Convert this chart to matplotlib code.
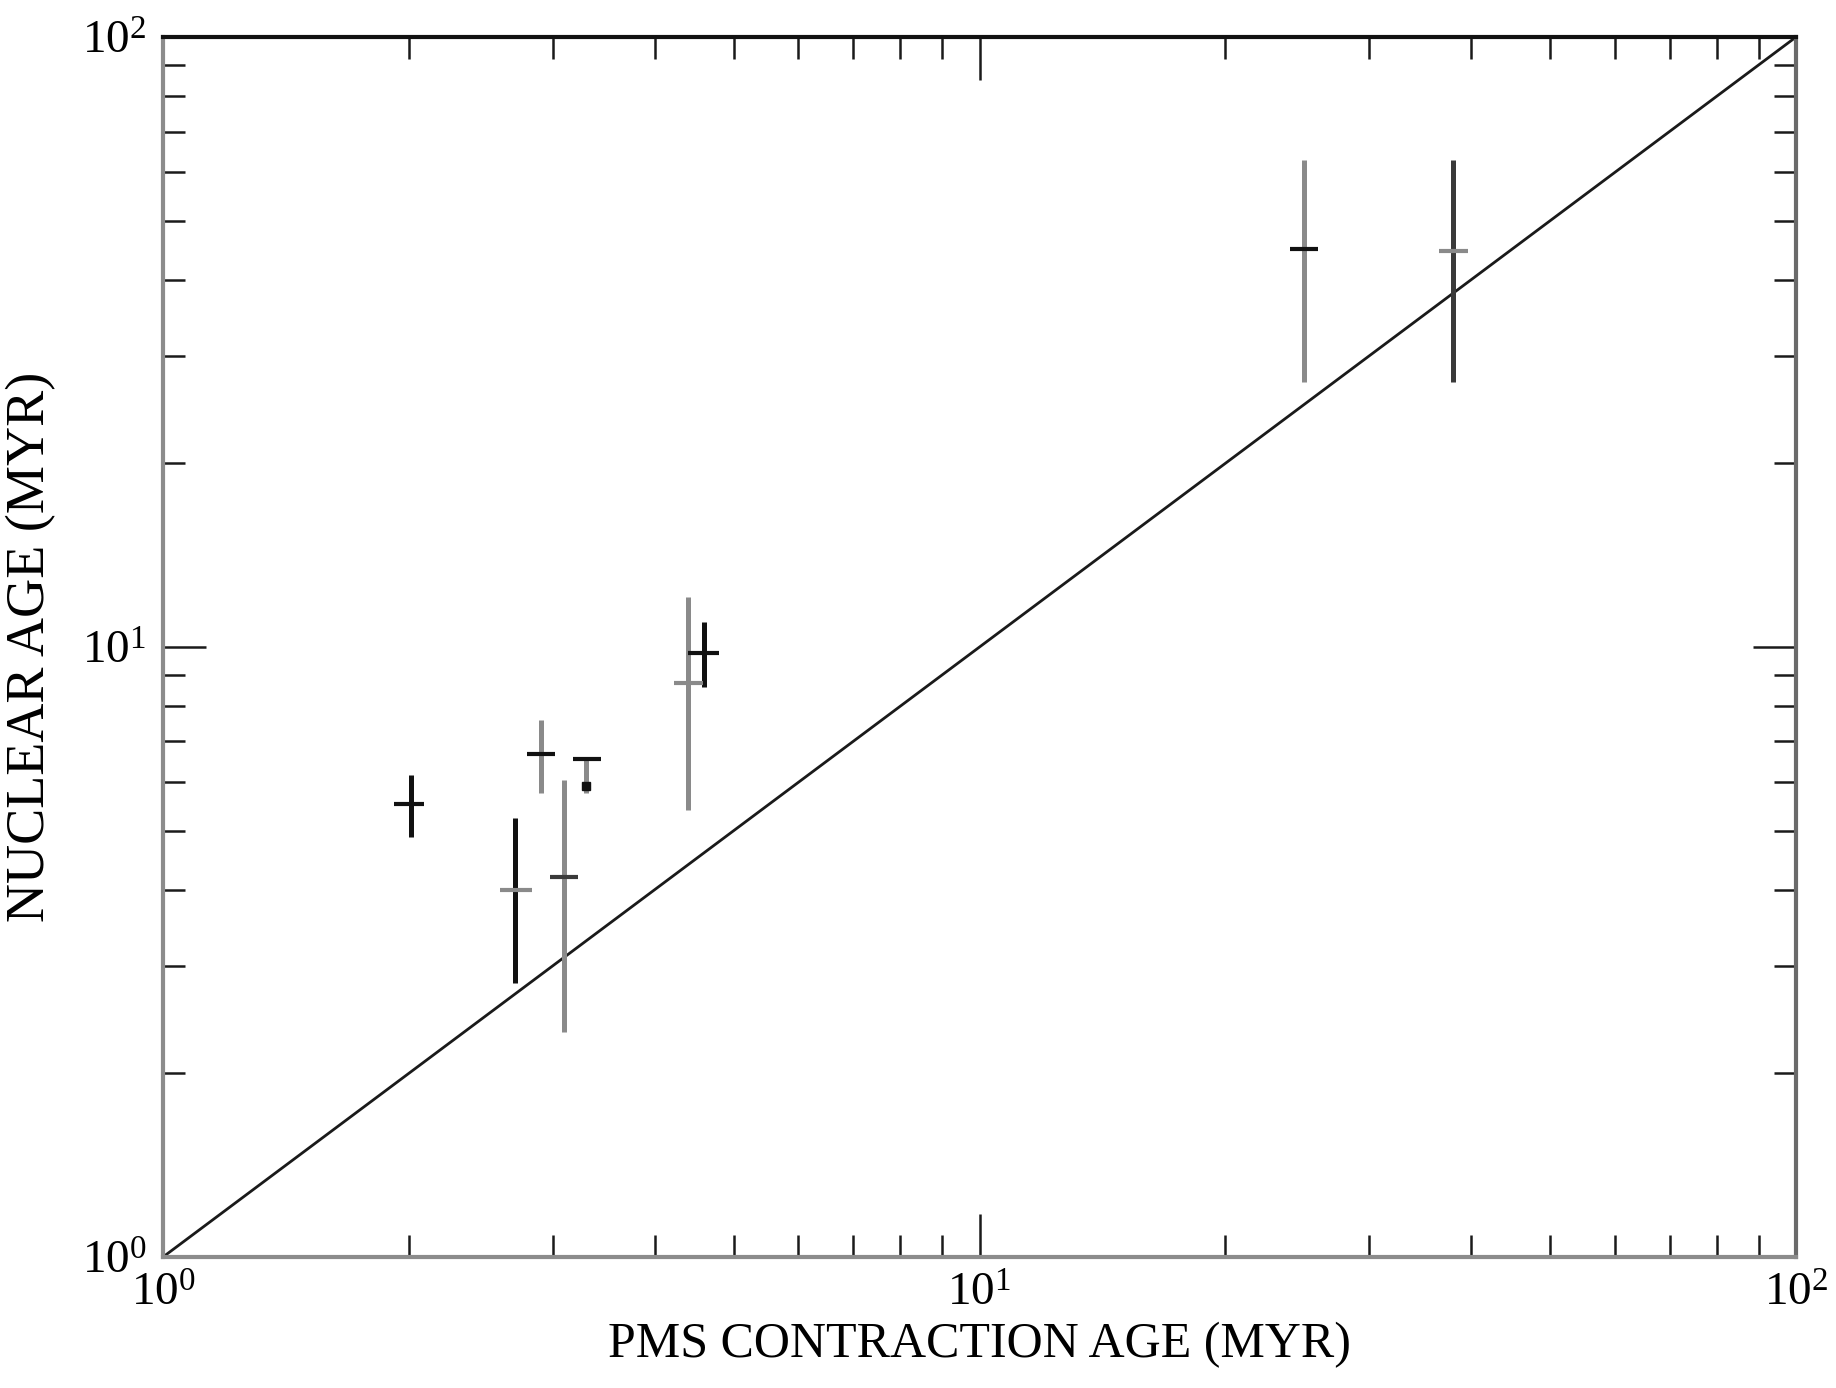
import matplotlib
matplotlib.use("Agg")
import matplotlib.pyplot as plt
from matplotlib.ticker import LogLocator, NullFormatter

# ---------------------------
# Data
# ---------------------------
pms_age = [2.01, 2.70, 2.90, 3.10, 3.30, 4.40, 4.60, 25.0, 38.0]
nuc_age = [5.53, 4.00, 6.68, 4.19, 6.55, 8.72, 9.77, 45.0, 44.6]
nuc_lo = [4.88, 2.81, 5.77, 2.34, 5.77, 5.41, 8.59, 27.2, 27.2]
nuc_hi = [6.17, 5.25, 7.59, 6.05, 6.55, 12.1, 11.0, 62.9, 62.9]
pms_lo = [1.92, 2.59, 2.79, 2.98, 3.18, 4.23, 4.40, 24.0, 36.5]
pms_hi = [2.09, 2.83, 3.02, 3.22, 3.44, 4.59, 4.79, 26.0, 39.7]

# shade of the vertical / horizontal bar of each point
vert_col = ["k", "k", "g", "g", "g", "g", "k", "g", "d"]
horz_col = ["k", "g", "k", "d", "k", "g", "k", "k", "g"]

# extra dot below the T-shaped point
dot_x = [3.30]
dot_y = [5.92]

one_to_one = [1, 100]

shades = {"k": "#111111", "g": "#8a8a8a", "d": "#3a3a3a"}

plt.rcParams["font.family"] = ["Liberation Serif", "DejaVu Serif"]
plt.rcParams["mathtext.fontset"] = "custom"
plt.rcParams["mathtext.rm"] = "Liberation Serif"

fig = plt.figure(figsize=(18.36, 13.88), dpi=100)
ax = fig.add_axes([0.0888, 0.0944, 0.8894, 0.8789])

# 1:1 line
ax.plot(one_to_one, one_to_one, color="#1a1a1a", lw=2.0, zorder=2)

for i in range(len(pms_age)):
    x, y = pms_age[i], nuc_age[i]
    ax.errorbar([x], [y], yerr=[[y - nuc_lo[i]], [nuc_hi[i] - y]], fmt="none",
                ecolor=shades[vert_col[i]], elinewidth=3.6, capsize=0, zorder=3)
    ax.errorbar([x], [y], xerr=[[x - pms_lo[i]], [pms_hi[i] - x]], fmt="none",
                ecolor=shades[horz_col[i]], elinewidth=3.0, capsize=0, zorder=4)

ax.plot(dot_x, dot_y, "s", color="#111111", ms=6, zorder=5)

ax.set_xscale("log")
ax.set_yscale("log")
ax.set_xlim(1, 100)
ax.set_ylim(1, 100)

for a in (ax.xaxis, ax.yaxis):
    a.set_major_locator(LogLocator(base=10))
    a.set_minor_locator(LogLocator(base=10, subs=range(2, 10)))
    a.set_minor_formatter(NullFormatter())

ax.tick_params(which="both", direction="in", top=True, right=True,
               colors="#1a1a1a", labelsize=34, labelcolor="black")
ax.tick_params(which="major", length=31, width=1.8, pad=12)
ax.tick_params(which="minor", length=16, width=1.8)

ax.spines["top"].set_color("#111111")
ax.spines["left"].set_color("#8c8c8c")
ax.spines["bottom"].set_color("#8c8c8c")
ax.spines["right"].set_color("#6a6a6a")
for s in ax.spines.values():
    s.set_linewidth(3.0)

ax.set_xlabel("PMS CONTRACTION AGE (MYR)", fontsize=36, labelpad=4)
ax.set_ylabel("NUCLEAR AGE (MYR)", fontsize=39, labelpad=18)

plt.savefig("out.png", dpi=100)
